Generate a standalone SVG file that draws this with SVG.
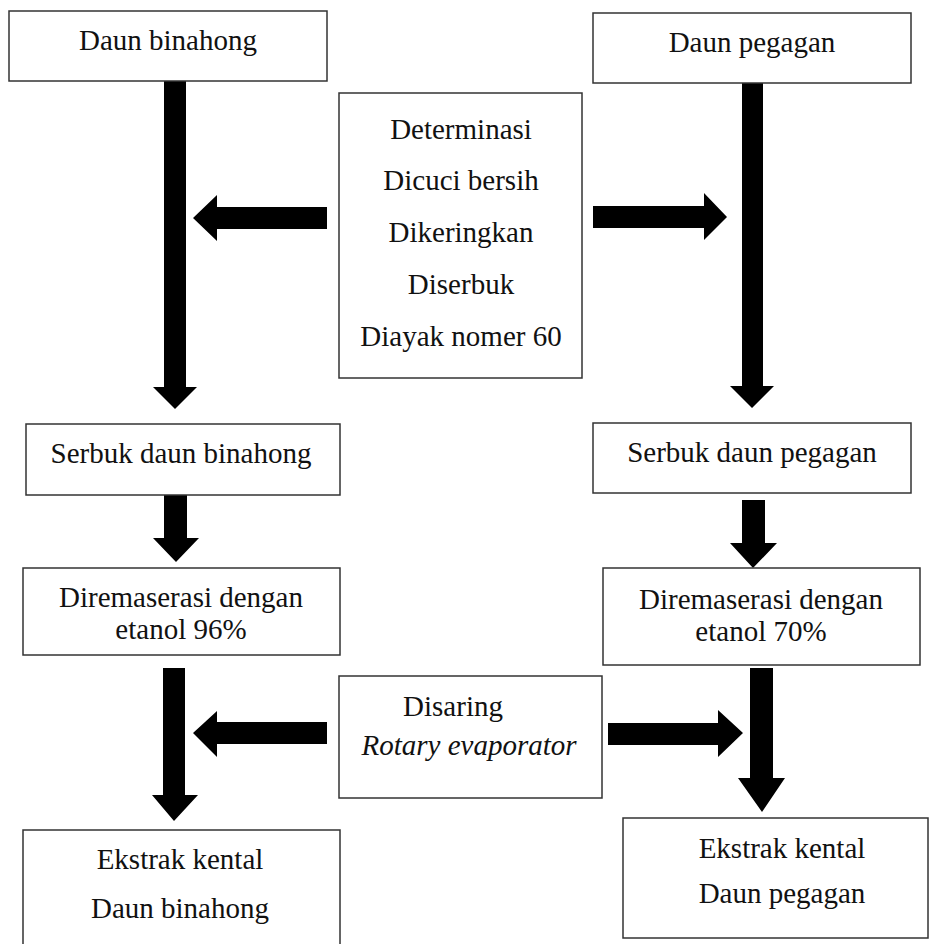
<svg xmlns="http://www.w3.org/2000/svg" width="929" height="944" viewBox="0 0 929 944">
<style>
.box{fill:#fff;stroke:#333;stroke-width:1.5}
text{font-family:'Liberation Serif','Times New Roman',serif;font-size:29px;fill:#111;text-anchor:middle}
.i{font-style:italic}
.arr{fill:#000}
</style>
<rect width="929" height="944" fill="#fff"/>
<g id="connectors">
<path class="arr" d="M164,81 H186 V387 H197 L175,409 L153,387 H164 Z"/>
<path class="arr" d="M742,81 H763 V386 H774 L752,408 L730,386 H742 Z"/>
<path class="arr" d="M327,207 V229 H217 V241 L193,218 L217,195 V207 Z"/>
<path class="arr" d="M593,206 V228 H704 V240 L727,217 L704,193 V206 Z"/>
<path class="arr" d="M164,493 H187 V538 H199 L176,562 L153,538 H164 Z"/>
<path class="arr" d="M742,500 H765 V543 H777 L753,568 L730,543 H742 Z"/>
<path class="arr" d="M163,668 H185 V795 H198 L174,821 L152,795 H163 Z"/>
<path class="arr" d="M750,668 H773 V778 H785 L762,812 L738,778 H750 Z"/>
<path class="arr" d="M327,722 V744 H217 V757 L193,733 L217,711 V722 Z"/>
<path class="arr" d="M608,723 V745 H718 V757 L743,733 L718,710 V723 Z"/>
</g>
<g id="n1"><rect class="box" x="9" y="11" width="318" height="70"/><text x="168" y="50">Daun binahong</text></g>
<g id="n2"><rect class="box" x="593" y="13" width="318" height="70"/><text x="752" y="52">Daun pegagan</text></g>
<g id="n3"><rect class="box" x="339" y="93" width="243" height="285"/>
<text x="461" y="139">Determinasi</text>
<text x="461" y="190">Dicuci bersih</text>
<text x="461" y="242">Dikeringkan</text>
<text x="461" y="294">Diserbuk</text>
<text x="461" y="346">Diayak nomer 60</text></g>
<g id="n4"><rect class="box" x="26" y="424" width="314" height="71"/><text x="181" y="463">Serbuk daun binahong</text></g>
<g id="n5"><rect class="box" x="593" y="423" width="318" height="70"/><text x="752" y="462">Serbuk daun pegagan</text></g>
<g id="n6"><rect class="box" x="23" y="568" width="317" height="87"/><text x="181" y="607">Diremaserasi dengan</text><text x="181" y="639">etanol 96%</text></g>
<g id="n7"><rect class="box" x="603" y="568" width="317" height="97"/><text x="761" y="609">Diremaserasi dengan</text><text x="761" y="641">etanol 70%</text></g>
<g id="n8"><rect class="box" x="339" y="676" width="263" height="122"/><text x="453" y="716">Disaring</text><text class="i" x="469" y="755">Rotary evaporator</text></g>
<g id="n9"><rect class="box" x="23" y="830" width="317" height="120"/><text x="180" y="869">Ekstrak kental</text><text x="180" y="918">Daun binahong</text></g>
<g id="n10"><rect class="box" x="623" y="818" width="305" height="120"/><text x="782" y="858">Ekstrak kental</text><text x="782" y="903">Daun pegagan</text></g>
</svg>
